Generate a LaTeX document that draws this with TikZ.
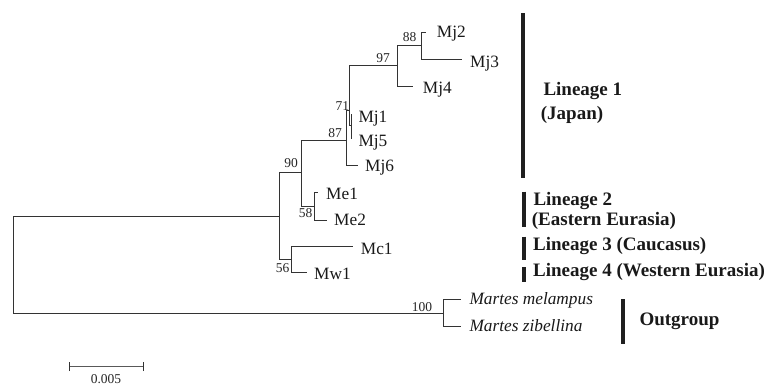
\documentclass[tikz,border=0pt]{standalone}
\usepackage{fontspec}
\setmainfont{Liberation Serif}
\begin{document}
\begin{tikzpicture}[x=1pt,y=-1pt,
  br/.style={draw=black!80,line width=0.9pt},
  tip/.style={anchor=base west,inner sep=0pt,text=black!90,font=\fontsize{17.3}{20}\selectfont},
  tipi/.style={tip,font=\fontsize{17.3}{20}\selectfont\itshape},
  boot/.style={anchor=center,inner sep=0pt,text=black!85,font=\fontsize{13.5}{15}\selectfont},
  lin/.style={anchor=base west,inner sep=0pt,text=black!90,font=\fontsize{19}{22}\selectfont\bfseries},
  bar/.style={draw=black!88,line width=4pt}]
\useasboundingbox (0,0) rectangle (770,385);
% internal nodes
\coordinate (root) at (13.3,265);
\coordinate (nI) at (279.3,216.7);
\coordinate (nO) at (443,313.3);
\coordinate (n90) at (301.7,172.7);
\coordinate (n56) at (291,259.3);
\coordinate (n87) at (346.7,140);
\coordinate (n58) at (314.3,206);
\coordinate (n71) at (349.2,110);
\coordinate (nJ) at (351,125);
\coordinate (n97) at (397.7,65.7);
\coordinate (n88) at (421.7,45.7);
% tips
\coordinate (tMj2) at (426,32.3);
\coordinate (tMj3) at (461.7,59);
\coordinate (tMj4) at (413.3,86);
\coordinate (tMj1) at (352,114);
\coordinate (tMj5) at (352,138);
\coordinate (tMj6) at (358.3,165.7);
\coordinate (tMe1) at (318.3,192.7);
\coordinate (tMe2) at (327.3,220);
\coordinate (tMc1) at (352.7,246.7);
\coordinate (tMw1) at (306.7,272.7);
\coordinate (tMel) at (460.7,299.5);
\coordinate (tZib) at (460.7,326);
% branches
\draw[br] (root) |- (nI);
\draw[br] (root) |- (nO);
\draw[br] (nI) |- (n90);
\draw[br] (nI) |- (n56);
\draw[br] (n90) |- (n87);
\draw[br] (n90) |- (n58);
\draw[br] (n87) |- (n71);
\draw[br] (n87) |- (tMj6);
\draw[br] (n71) |- (n97);
\draw[br] (n71) |- (nJ);
\draw[br] (nJ) |- (tMj1);
\draw[br] (nJ) |- (tMj5);
\draw[br] (n97) |- (n88);
\draw[br] (n97) |- (tMj4);
\draw[br] (n88) |- (tMj2);
\draw[br] (n88) |- (tMj3);
\draw[br] (n58) |- (tMe1);
\draw[br] (n58) |- (tMe2);
\draw[br] (n56) |- (tMc1);
\draw[br] (n56) |- (tMw1);
\draw[br] (nO) |- (tMel);
\draw[br] (nO) |- (tZib);
% tip labels
\node[tip] (lMj2) at (436.7,37.3) {Mj2};
\node[tip] (lMj3) at (470,67.7) {Mj3};
\node[tip] (lMj4) at (422.7,93.3) {Mj4};
\node[tip] (lMj1) at (358.3,122.7) {Mj1};
\node[tip] (lMj5) at (358.3,146.7) {Mj5};
\node[tip] (lMj6) at (365,171.7) {Mj6};
\node[tip] (lMe1) at (326,199.3) {Me1};
\node[tip] (lMe2) at (334,225.7) {Me2};
\node[tip] (lMc1) at (360.7,254) {Mc1};
\node[tip] (lMw1) at (314,279) {Mw1};
\node[tipi] (lMel) at (469.3,304) {Martes melampus};
\node[tipi] (lZib) at (469.3,331.7) {Martes zibellina};
% bootstrap values
\node[boot] (b88) at (409.5,37) {88};
\node[boot] (b97) at (383,58) {97};
\node[boot] (b71) at (342.3,106) {71};
\node[boot] (b87) at (335,133) {87};
\node[boot] (b90) at (291,163) {90};
\node[boot] (b58) at (305.5,213) {58};
\node[boot] (b56) at (282.5,268) {56};
\node[boot] (b100) at (422,307.5) {100};
% lineage bars
\draw[bar] (522.7,13.3) -- (522.7,178.3);
\draw[bar] (524,191.7) -- (524,226.7);
\draw[bar] (524,236.7) -- (524,260);
\draw[bar] (524,267.3) -- (524,281.5);
\draw[bar] (623,299) -- (623,344);
% lineage labels
\node[lin] (L1a) at (543.3,95.7) {Lineage 1};
\node[lin] (L1b) at (540.7,119.3) {(Japan)};
\node[lin] (L2a) at (533.3,205) {Lineage 2};
\node[lin] (L2b) at (531.7,225.5) {(Eastern Eurasia)};
\node[lin] (L3) at (533,250) {Lineage 3 (Caucasus)};
\node[lin] (L4) at (533,276) {Lineage 4 (Western Eurasia)};
\node[lin] (LO) at (639.3,325) {Outgroup};
% scale bar
\coordinate (sA) at (69,366.7);
\coordinate (sB) at (143.3,366.7);
\draw[draw=black!65,line width=1.3pt] (sA) -- (sB);
\draw[draw=black!80,line width=0.9pt] ([yshift=-4.5pt]sA) -- ([yshift=4.5pt]sA);
\draw[draw=black!80,line width=0.9pt] ([yshift=-4.5pt]sB) -- ([yshift=4.5pt]sB);
\node[anchor=base,inner sep=0pt,text=black!85,font=\fontsize{13.5}{15}\selectfont] (sl) at (106,383.5) {0.005};
\end{tikzpicture}
\end{document}
